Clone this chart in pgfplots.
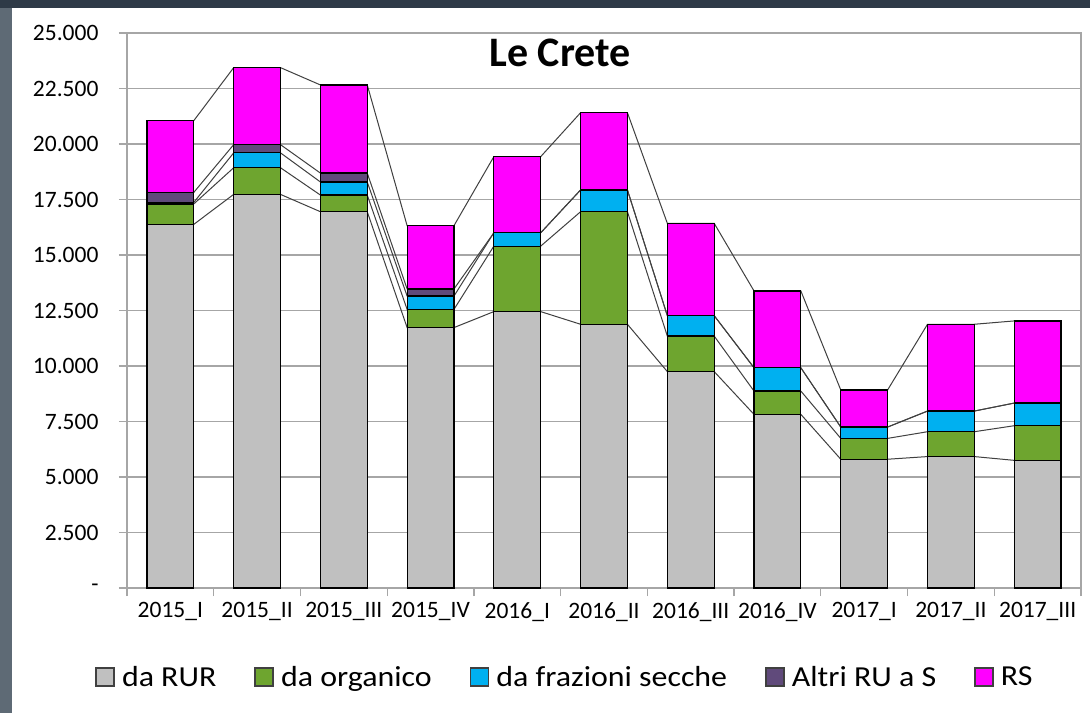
\documentclass[border=0pt]{standalone}
\usepackage{fontspec}
\setmainfont{Carlito}
\newfontfamily\legfont[FakeStretch=1.1]{Carlito}
\usepackage{pgfplots}
\usepackage{pgfplotstable}
\pgfplotsset{compat=1.18}

\definecolor{cRUR}{HTML}{C0C0C0}
\definecolor{cOrg}{HTML}{6EA52F}
\definecolor{cSec}{HTML}{00B0F0}
\definecolor{cAlt}{HTML}{604A7B}
\definecolor{cRS}{HTML}{FF00FF}
\definecolor{gridc}{HTML}{A6A6A6}
\definecolor{serl}{HTML}{404040}
\definecolor{leftc}{HTML}{5E6A75}
\definecolor{topc}{HTML}{2E3A47}

% cumulative tops of the stacked segments
% t1 = da RUR, t2 = + da organico, t3 = + da frazioni secche, t4 = + Altri RU a S, t5 = + RS
\pgfplotstableread{
x  t1    t2    t3    t4    t5
0  16380 17300 17370 17820 21050
1  17730 18930 19600 19970 23440
2  16950 17700 18290 18690 22660
3  11730 12550 13150 13470 16320
4  12450 15400 16000 16000 19430
5  11880 16950 17930 17930 21410
6  9750  11350 12270 12270 16430
7  7820  8870  9920  9920  13380
8  5800  6740  7250  7250  8920
9  5920  7040  7970  7970  11880
10 5750  7310  8330  8330  12030
}\cum

\newcommand\buildline[2]{%
  \def\coords{}%
  \pgfplotsforeachungrouped \i in {0,...,10}{%
    \pgfplotstablegetelem{\i}{#1}\of\cum
    \pgfmathsetmacro\xl{\i-0.27}%
    \pgfmathsetmacro\xr{\i+0.27}%
    \edef\coords{\coords(\xl,\pgfplotsretval)(\xr,\pgfplotsretval)}%
  }%
  \expandafter\let\csname #2\endcsname\coords
}

\begin{document}
\buildline{t1}{lineA}%
\buildline{t2}{lineB}%
\buildline{t3}{lineC}%
\buildline{t4}{lineD}%
\buildline{t5}{lineE}%
\begin{tikzpicture}
\useasboundingbox (0,0) rectangle (1090pt,713pt);
\fill[white] (0,0) rectangle (1090pt,713pt);
\fill[leftc] (0,0) rectangle (12pt,713pt);
\fill[topc] (0,705pt) rectangle (1090pt,713pt);
\begin{axis}[
  at={(127pt,125pt)}, anchor=south west,
  scale only axis, width=954pt, height=555pt,
  xmin=-0.5, xmax=10.5, ymin=0, ymax=25000,
  axis line style={draw=gridc, line width=1.2pt},
  ymajorgrids, grid style={draw=gridc, line width=1.2pt},
  scaled y ticks=false,
  ytick={0,2500,...,25000},
  yticklabels={-\hspace{10pt},2.500,5.000,7.500,10.000,12.500,15.000,17.500,20.000,22.500,25.000},
  yticklabel style={xshift=-17pt},
  xtick={-0.5,0.5,...,10.5}, xticklabels={},
  extra x ticks={0,1,2,3,4,5,6,7,8,9,10},
  extra x tick labels={2015\_I,2015\_II,2015\_III,2015\_IV,2016\_I,2016\_II,2016\_III,2016\_IV,2017\_I,2017\_II,2017\_III},
  extra x tick style={major tick length=0pt, grid=none, xticklabel style={yshift=-11pt}},
  tick align=outside, tick pos=left, major tick length=8pt,
  tick style={draw=gridc, line width=1.2pt},
  tick label style={font=\fontsize{23.5}{23.5}\selectfont, text=black},
  legend columns=5,
  legend cell align=left,
  legend image code/.code={\draw[#1, draw=black!75, line width=1.5pt] (0pt,-9pt) rectangle (18pt,9pt); \path[draw=none, fill=none] (0pt,0pt) -- (24pt,0pt);},
  legend style={at={(0.459,-0.160)}, anchor=center, draw=none, fill=none,
    font=\legfont\fontsize{29}{29}\selectfont,
    /tikz/every even column/.append style={column sep=36pt}},
]
\addlegendimage{fill=cRUR}\addlegendentry{da RUR}
\addlegendimage{fill=cOrg}\addlegendentry{da organico}
\addlegendimage{fill=cSec}\addlegendentry{da frazioni secche}
\addlegendimage{fill=cAlt}\addlegendentry{Altri RU a S}
\addlegendimage{fill=cRS}\addlegendentry{RS}

\edef\tmp{\noexpand\addplot[sharp plot, draw=serl, line width=1pt, forget plot] coordinates {\lineA};}\tmp
\edef\tmp{\noexpand\addplot[sharp plot, draw=serl, line width=1pt, forget plot] coordinates {\lineB};}\tmp
\edef\tmp{\noexpand\addplot[sharp plot, draw=serl, line width=1pt, forget plot] coordinates {\lineC};}\tmp
\edef\tmp{\noexpand\addplot[sharp plot, draw=serl, line width=1pt, forget plot] coordinates {\lineD};}\tmp
\edef\tmp{\noexpand\addplot[sharp plot, draw=serl, line width=1pt, forget plot] coordinates {\lineE};}\tmp

\addplot[ybar, bar width=0.54, bar shift=0pt, fill=cRS, draw=black, line width=1.2pt, forget plot] table[x=x,y=t5]{\cum};
\addplot[ybar, bar width=0.54, bar shift=0pt, fill=cAlt, draw=black, line width=1.2pt, forget plot] table[x=x,y=t4]{\cum};
\addplot[ybar, bar width=0.54, bar shift=0pt, fill=cSec, draw=black, line width=1.2pt, forget plot] table[x=x,y=t3]{\cum};
\addplot[ybar, bar width=0.54, bar shift=0pt, fill=cOrg, draw=black, line width=1.2pt, forget plot] table[x=x,y=t2]{\cum};
\addplot[ybar, bar width=0.54, bar shift=0pt, fill=cRUR, draw=black, line width=1.2pt, forget plot] table[x=x,y=t1]{\cum};
\end{axis}
\node[font=\bfseries\fontsize{42}{42}\selectfont, anchor=base] at (560pt,646pt) {Le Crete};
\end{tikzpicture}
\end{document}
